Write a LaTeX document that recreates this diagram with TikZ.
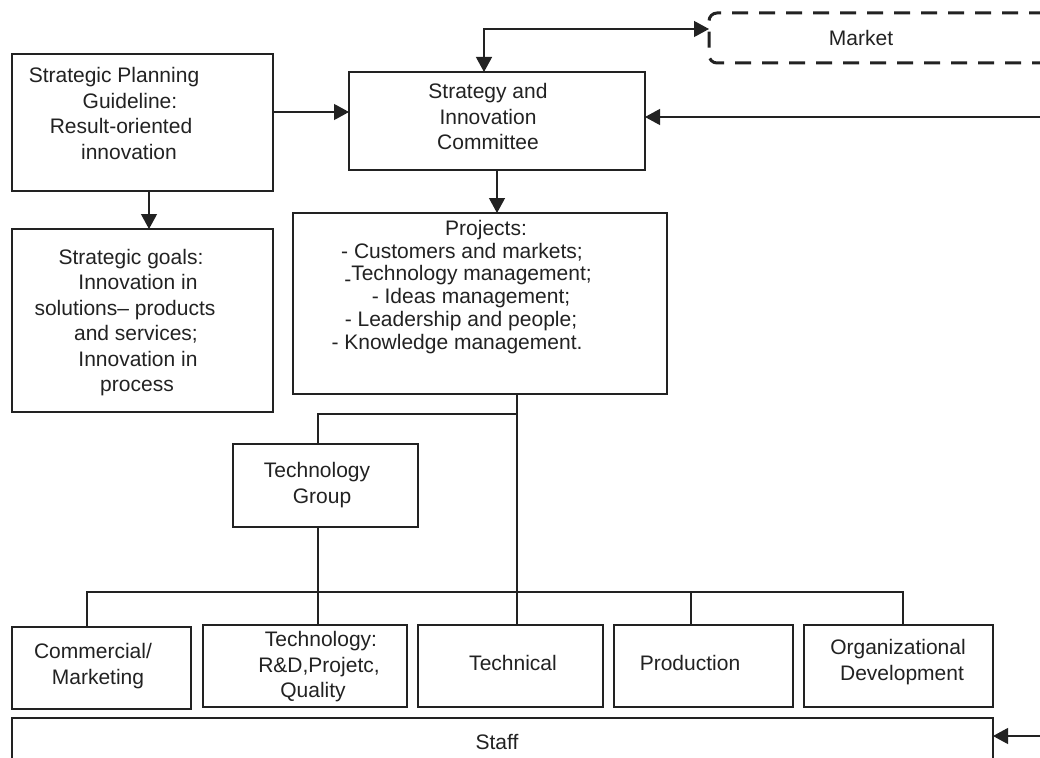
\documentclass[tikz,border=0pt]{standalone}
\usepackage{fontspec}
\setmainfont{Liberation Sans}
\usetikzlibrary{arrows.meta}
\definecolor{ink}{HTML}{222222}
\newcommand\SL[2]{\makebox[0pt]{\kern#1pt\kern#1pt\relax#2\strut}}
\begin{document}
\begin{tikzpicture}[x=1pt,y=-1pt,
  box/.style={draw=ink, line width=1.3pt, rectangle, inner sep=0pt, outer sep=0pt},
  txt/.style={text=ink, align=center, inner sep=0pt, font=\fontsize{21}{25.5}\selectfont},
  txtp/.style={txt, font=\fontsize{21}{21.7}\selectfont},
  conn/.style={draw=ink, line width=1.2pt},
  tip/.tip={Triangle[length=15pt,width=16pt]},
  arr/.style={conn, -tip},
]
\clip (0,0) rectangle (1040,757);
\fill[white] (0,0) rectangle (1040,757);

% boxes
\node[box, minimum width=261pt, minimum height=137pt] (spg) at (142.5,122.5) {};
\node[box, minimum width=261pt, minimum height=183pt] (goals) at (142.5,320.5) {};
\node[box, minimum width=296pt, minimum height=98pt] (sic) at (497,121) {};
\node[draw=ink, line width=3pt, dash pattern=on 16pt off 11pt, rounded corners=8pt,
      minimum width=371pt, minimum height=50pt, inner sep=0pt, outer sep=0pt] (mkt) at (894.5,38) {};
\node[box, minimum width=374pt, minimum height=181pt] (proj) at (480,303.5) {};
\node[box, minimum width=185pt, minimum height=83pt] (tg) at (325.5,485.5) {};
\node[box, minimum width=179pt, minimum height=82pt] (comm) at (101.5,668) {};
\node[box, minimum width=204pt, minimum height=82pt] (techd) at (305,666) {};
\node[box, minimum width=185pt, minimum height=82pt] (tech) at (510.5,666) {};
\node[box, minimum width=179pt, minimum height=82pt] (prod) at (703.5,666) {};
\node[box, minimum width=189pt, minimum height=82pt] (org) at (898.5,666) {};
\node[box, minimum width=981pt, minimum height=62pt] (staff) at (502.5,749) {};

% texts
\node[txt] (spgT) at (142.5,116) {\SL{-28.5}{Strategic Planning}\\\SL{-12.5}{Guideline:}\\\SL{-21.5}{Result-oriented}\\\SL{-13.5}{innovation}};
\node[txt] (goalsT) at (142.5,323) {\SL{-11.5}{Strategic goals:}\\\SL{-4.5}{Innovation in}\\\SL{-17.5}{solutions-- products}\\\SL{-6.5}{and services;}\\\SL{-4.5}{Innovation in}\\\SL{-5.5}{process}};
\node[txt] (sicT) at (488,116.5) {Strategy and\\Innovation\\Committee};
\node[txt] (mktT) at (861,38) {Market};
\node[txtp] (projT) at (480,288) {\SL{6}{Projects:}\\\SL{-18}{- Customers and markets;}\\\SL{-12}{\raisebox{-6pt}{-}Technology management;}\\\SL{-9}{- Ideas management;}\\\SL{-19}{- Leadership and people;}\\\SL{-23}{- Knowledge management.}};
\node[txt] (tgT) at (325.5,485.5) {\SL{-8.5}{Technology}\\\SL{-3.5}{Group}};
\node[txt] (commT) at (101.5,666.5) {\SL{-8.5}{Commercial/}\\\SL{-3.5}{Marketing}};
\node[txt] (techdT) at (305,667) {\SL{16}{Technology:}\\\SL{14}{R\&D,Projetc,}\\\SL{8}{Quality}};
\node[txt] (techT) at (513,663) {Technical};
\node[txt] (prodT) at (690,663) {Production};
\node[txt] (orgT) at (898.5,662.5) {\SL{-0.5}{Organizational}\\\SL{3.5}{Development}};
\node[txt] (staffT) at (497,742) {Staff};

% connectors
\coordinate (a1) at (0,112);
\draw[arr] (spg.east |- a1) -- (sic.west |- a1);
\coordinate (a2) at (484,29);
\draw[conn, tip-tip] (sic.north -| a2) |- (mkt.west |- a2);
\coordinate (r1) at (1040,117);
\draw[arr] (r1) -- (sic.east |- r1);
\draw[arr] (sic.south) -- (proj.north -| sic.south);
\coordinate (c1) at (149,0);
\draw[arr] (spg.south -| c1) -- (goals.north -| c1);
\coordinate (j1) at (517,414);
\coordinate (j2) at (318,414);
\draw[conn] (proj.south -| j1) -- (tech.north -| j1);
\draw[conn] (j1) -- (j2) -- (tg.north -| j2);
\draw[conn] (tg.south -| j2) -- (techd.north -| j2);
\coordinate (b1) at (87,592);
\coordinate (b2) at (903,592);
\coordinate (b3) at (691,592);
\draw[conn] (comm.north -| b1) -- (b1) -- (b2) -- (org.north -| b2);
\draw[conn] (b3) -- (prod.north -| b3);
\coordinate (r2) at (1040,736);
\draw[arr] (r2) -- (staff.east |- r2);
\end{tikzpicture}
\end{document}
